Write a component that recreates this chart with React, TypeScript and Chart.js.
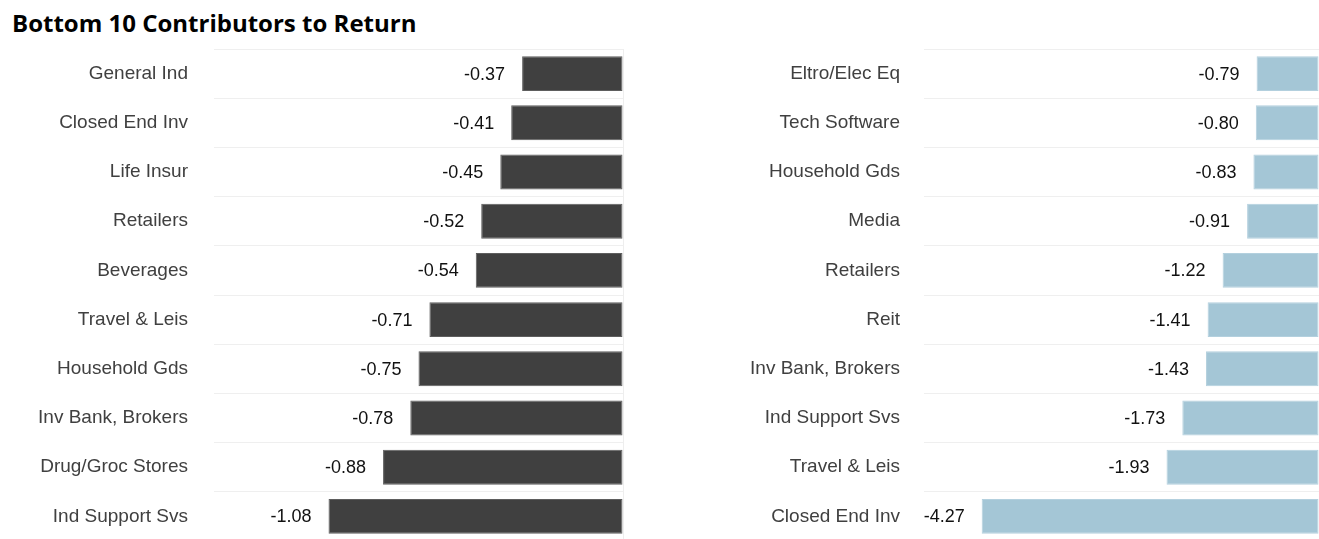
import React, { useEffect, useRef } from "react";
import { Chart, registerables } from "chart.js";

Chart.register(...registerables);

const TITLE = "Bottom 10 Contributors to Return";

const leftCategories = [
  "General Ind",
  "Closed End Inv",
  "Life Insur",
  "Retailers",
  "Beverages",
  "Travel & Leis",
  "Household Gds",
  "Inv Bank, Brokers",
  "Drug/Groc Stores",
  "Ind Support Svs",
];
const leftValues = [-0.37, -0.41, -0.45, -0.52, -0.54, -0.71, -0.75, -0.78, -0.88, -1.08];

const rightCategories = [
  "Eltro/Elec Eq",
  "Tech Software",
  "Household Gds",
  "Media",
  "Retailers",
  "Reit",
  "Inv Bank, Brokers",
  "Ind Support Svs",
  "Travel & Leis",
  "Closed End Inv",
];
const rightValues = [-0.79, -0.8, -0.83, -0.91, -1.22, -1.41, -1.43, -1.73, -1.93, -4.27];

const FONT_FAMILY = "'Liberation Sans', Arial, sans-serif";

const valueLabelPlugin = {
  id: "valueLabels",
  afterDatasetsDraw(chart: any) {
    const ctx = chart.ctx;
    const meta = chart.getDatasetMeta(0);
    const data = chart.data.datasets[0].data as number[];
    ctx.save();
    ctx.font = "18px " + FONT_FAMILY;
    ctx.fillStyle = "#111111";
    ctx.textAlign = "right";
    ctx.textBaseline = "middle";
    meta.data.forEach((bar: any, i: number) => {
      ctx.fillText(data[i].toFixed(2), bar.x - 17, bar.y + 1);
    });
    ctx.restore();
  },
};

function BarPanel(props: {
  categories: string[];
  values: number[];
  min: number;
  color: string;
  border: string;
  axisWidth: number;
  labelPad: number;
  padRight: number;
  width: number;
}) {
  const ref = useRef<HTMLCanvasElement | null>(null);
  useEffect(() => {
    if (!ref.current) return;
    const chart = new Chart(ref.current, {
      type: "bar",
      data: {
        labels: props.categories,
        datasets: [
          {
            data: props.values,
            backgroundColor: props.color,
            borderColor: props.border,
            borderWidth: 1,
            borderSkipped: false,
            categoryPercentage: 1,
            barPercentage: 0.71,
          },
        ],
      },
      options: {
        indexAxis: "y",
        animation: false,
        responsive: false,
        maintainAspectRatio: false,
        layout: { padding: { top: 9, right: props.padRight, bottom: 1, left: 0 } },
        plugins: { legend: { display: false }, tooltip: { enabled: false }, title: { display: false } },
        scales: {
          x: {
            min: props.min,
            max: 0,
            display: true,
            ticks: { display: false, padding: 0 },
            border: { display: false },
            grid: {
              drawTicks: false,
              color: (c: any) => (c.tick && c.tick.value === 0 ? "#eeeeee" : "rgba(0,0,0,0)"),
            },
            afterFit: (scale: any) => {
              scale.height = 0;
              scale.paddingLeft = 0;
              scale.paddingRight = 0;
            },
          },
          y: {
            border: { display: false },
            grid: {
              drawTicks: true,
              tickLength: props.labelPad,
              tickColor: "rgba(0,0,0,0)",
              color: "#efefef",
              offset: true,
            },
            ticks: {
              padding: 0,
              color: "#404040",
              font: { family: FONT_FAMILY, size: 19 },
            },
            afterFit: (scale: any) => {
              scale.width = props.axisWidth;
              scale.paddingTop = 0;
              scale.paddingBottom = 0;
            },
          },
        },
      },
      plugins: [valueLabelPlugin],
    });
    return () => chart.destroy();
  }, []);
  return <canvas ref={ref} width={props.width} height={502} style={{ display: "block" }} />;
}

export default function App() {
  return (
    <div
      style={{
        position: "fixed",
        left: 0,
        top: 0,
        width: 1319,
        height: 539,
        overflow: "hidden",
        background: "#ffffff",
      }}
    >
      <div
        style={{
          position: "absolute",
          left: 12,
          top: 11,
          fontFamily: "'Open Sans', sans-serif",
          fontWeight: 700,
          fontSize: 24,
          lineHeight: "24px",
          color: "#000",
          whiteSpace: "nowrap",
        }}
      >
        {TITLE}
      </div>
      <div style={{ position: "absolute", left: 0, top: 40 }}>
        <BarPanel
          categories={leftCategories}
          values={leftValues}
          min={-1.5}
          color="#404040"
          border="#5e5e5e"
          axisWidth={214}
          labelPad={26}
          padRight={3}
          width={626}
        />
      </div>
      <div style={{ position: "absolute", left: 660, top: 40 }}>
        <BarPanel
          categories={rightCategories}
          values={rightValues}
          min={-5}
          color="#a4c6d6"
          border="#b3d0de"
          axisWidth={264}
          labelPad={24}
          padRight={0}
          width={659}
        />
      </div>
    </div>
  );
}
